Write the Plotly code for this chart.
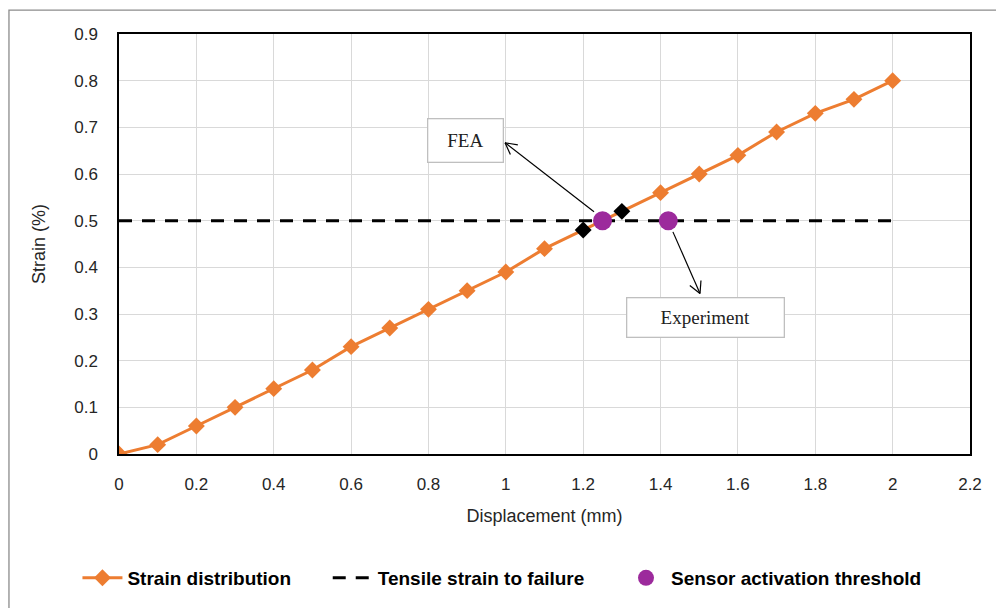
import math
import plotly.graph_objects as go

# Strain along the displacement sweep
displacement = [0.0, 0.1, 0.2, 0.3, 0.4, 0.5, 0.6, 0.7, 0.8, 0.9, 1.0,
                1.1, 1.2, 1.3, 1.4, 1.5, 1.6, 1.7, 1.8, 1.9, 2.0]
strain = [0.0, 0.02, 0.06, 0.10, 0.14, 0.18, 0.23, 0.27, 0.31, 0.35, 0.39,
          0.44, 0.48, 0.52, 0.56, 0.60, 0.64, 0.69, 0.73, 0.76, 0.80]

# Failure strain limit
failure_x = [0.0, 2.0]
failure_y = [0.5, 0.5]

# Sensor activation points (FEA, experiment)
sensor_x = [1.25, 1.42]
sensor_y = [0.5, 0.5]
sensor_labels = ["FEA", "Experiment"]

x_ticks = [0, 0.2, 0.4, 0.6, 0.8, 1, 1.2, 1.4, 1.6, 1.8, 2, 2.2]
y_ticks = [0, 0.1, 0.2, 0.3, 0.4, 0.5, 0.6, 0.7, 0.8, 0.9]

ORANGE = "#ED7D31"
PURPLE = "#9C2A9C"

# the two points bracketing the threshold are drawn in black
marker_colors = ["black" if x in (1.2, 1.3) else ORANGE for x in displacement]

fig = go.Figure()
fig.add_trace(go.Scatter(
    x=displacement, y=strain, mode="lines+markers", name="Strain distribution      ",
    line=dict(color=ORANGE, width=3),
    marker=dict(symbol="diamond", size=13, color=marker_colors),
))
fig.add_trace(go.Scatter(
    x=failure_x, y=failure_y, mode="lines", name="Tensile strain to failure      ",
    line=dict(color="black", width=3, dash="13px,10px"),
))
fig.add_trace(go.Scatter(
    x=sensor_x, y=sensor_y, mode="markers", name="Sensor activation threshold",
    marker=dict(symbol="circle", size=19, color=PURPLE),
))

# label boxes and their callout arrows (box centre, arrow tip, arrow tail)
callouts = [
    dict(text=sensor_labels[0], box=(0.897, 0.671), w=72, h=40, tip=(0.998, 0.667), tail=(1.228, 0.519)),
    dict(text=sensor_labels[1], box=(1.515, 0.293), w=154, h=36, tip=(1.502, 0.344), tail=(1.432, 0.476)),
]

px_per_x = 851 / 2.2
px_per_y = 421 / 0.9
shapes = []
annotations = []
for c in callouts:
    annotations.append(dict(
        x=c["box"][0], y=c["box"][1], xref="x", yref="y", text=c["text"],
        showarrow=False, width=c["w"], height=c["h"], align="center", valign="middle",
        bordercolor="#BFBFBF", borderwidth=1.3, bgcolor="white",
        font=dict(family="Liberation Serif, Times New Roman, serif", size=19, color="#222"),
    ))
    tx, ty = c["tip"]
    sx, sy = c["tail"]
    shapes.append(dict(type="line", xref="x", yref="y", x0=sx, y0=sy, x1=tx, y1=ty,
                       line=dict(color="black", width=1.2)))
    # open V arrowhead
    dxp = (tx - sx) * px_per_x
    dyp = (ty - sy) * px_per_y
    ang = math.atan2(dyp, dxp)
    for s in (1, -1):
        a = ang + math.pi + s * math.radians(28)
        hx = tx + 13 * math.cos(a) / px_per_x
        hy = ty + 13 * math.sin(a) / px_per_y
        shapes.append(dict(type="line", xref="x", yref="y", x0=tx, y0=ty, x1=hx, y1=hy,
                           line=dict(color="black", width=1.2)))

# outer frame of the chart
shapes.append(dict(type="rect", xref="paper", yref="paper",
                   x0=-0.1293, x1=1.2, y0=-0.38, y1=1.057,
                   line=dict(color="#8C8C8C", width=1.3), fillcolor="rgba(0,0,0,0)", layer="below"))

tick_font = dict(family="Liberation Sans, Arial, sans-serif", size=17, color="#262626")
title_font = dict(family="Liberation Sans, Arial, sans-serif", size=18, color="#262626")

fig.update_layout(
    width=996, height=608,
    margin=dict(l=119, r=26, t=34, b=153),
    paper_bgcolor="white", plot_bgcolor="white",
    showlegend=True,
    legend=dict(
        orientation="h", x=0.45, xanchor="center", y=-0.292, yanchor="middle",
        font=dict(family="Liberation Sans Narrow, Arial Narrow, Liberation Sans, sans-serif",
                  size=19, color="black", weight="bold"),
        itemwidth=40, tracegroupgap=0,
    ),
    xaxis=dict(
        range=[0, 2.2], tickvals=x_ticks, ticktext=[f"{v:g}" for v in x_ticks],
        showgrid=True, gridcolor="#D9D9D9", gridwidth=1.3,
        showline=True, linecolor="black", linewidth=1.5, mirror=True,
        ticks="", zeroline=False, tickfont=tick_font, ticklabelstandoff=14,
        title=dict(text="Displacement (mm)", standoff=16, font=title_font),
    ),
    yaxis=dict(
        range=[0, 0.9], tickvals=y_ticks, ticktext=[f"{v:g}" for v in y_ticks],
        showgrid=True, gridcolor="#D9D9D9", gridwidth=1.3,
        showline=True, linecolor="black", linewidth=1.5, mirror=True,
        ticks="", zeroline=False, tickfont=tick_font, ticklabelstandoff=16,
        title=dict(text="Strain (%)", standoff=24, font=title_font),
    ),
    shapes=shapes,
    annotations=annotations,
)

fig.write_html("out.html")
